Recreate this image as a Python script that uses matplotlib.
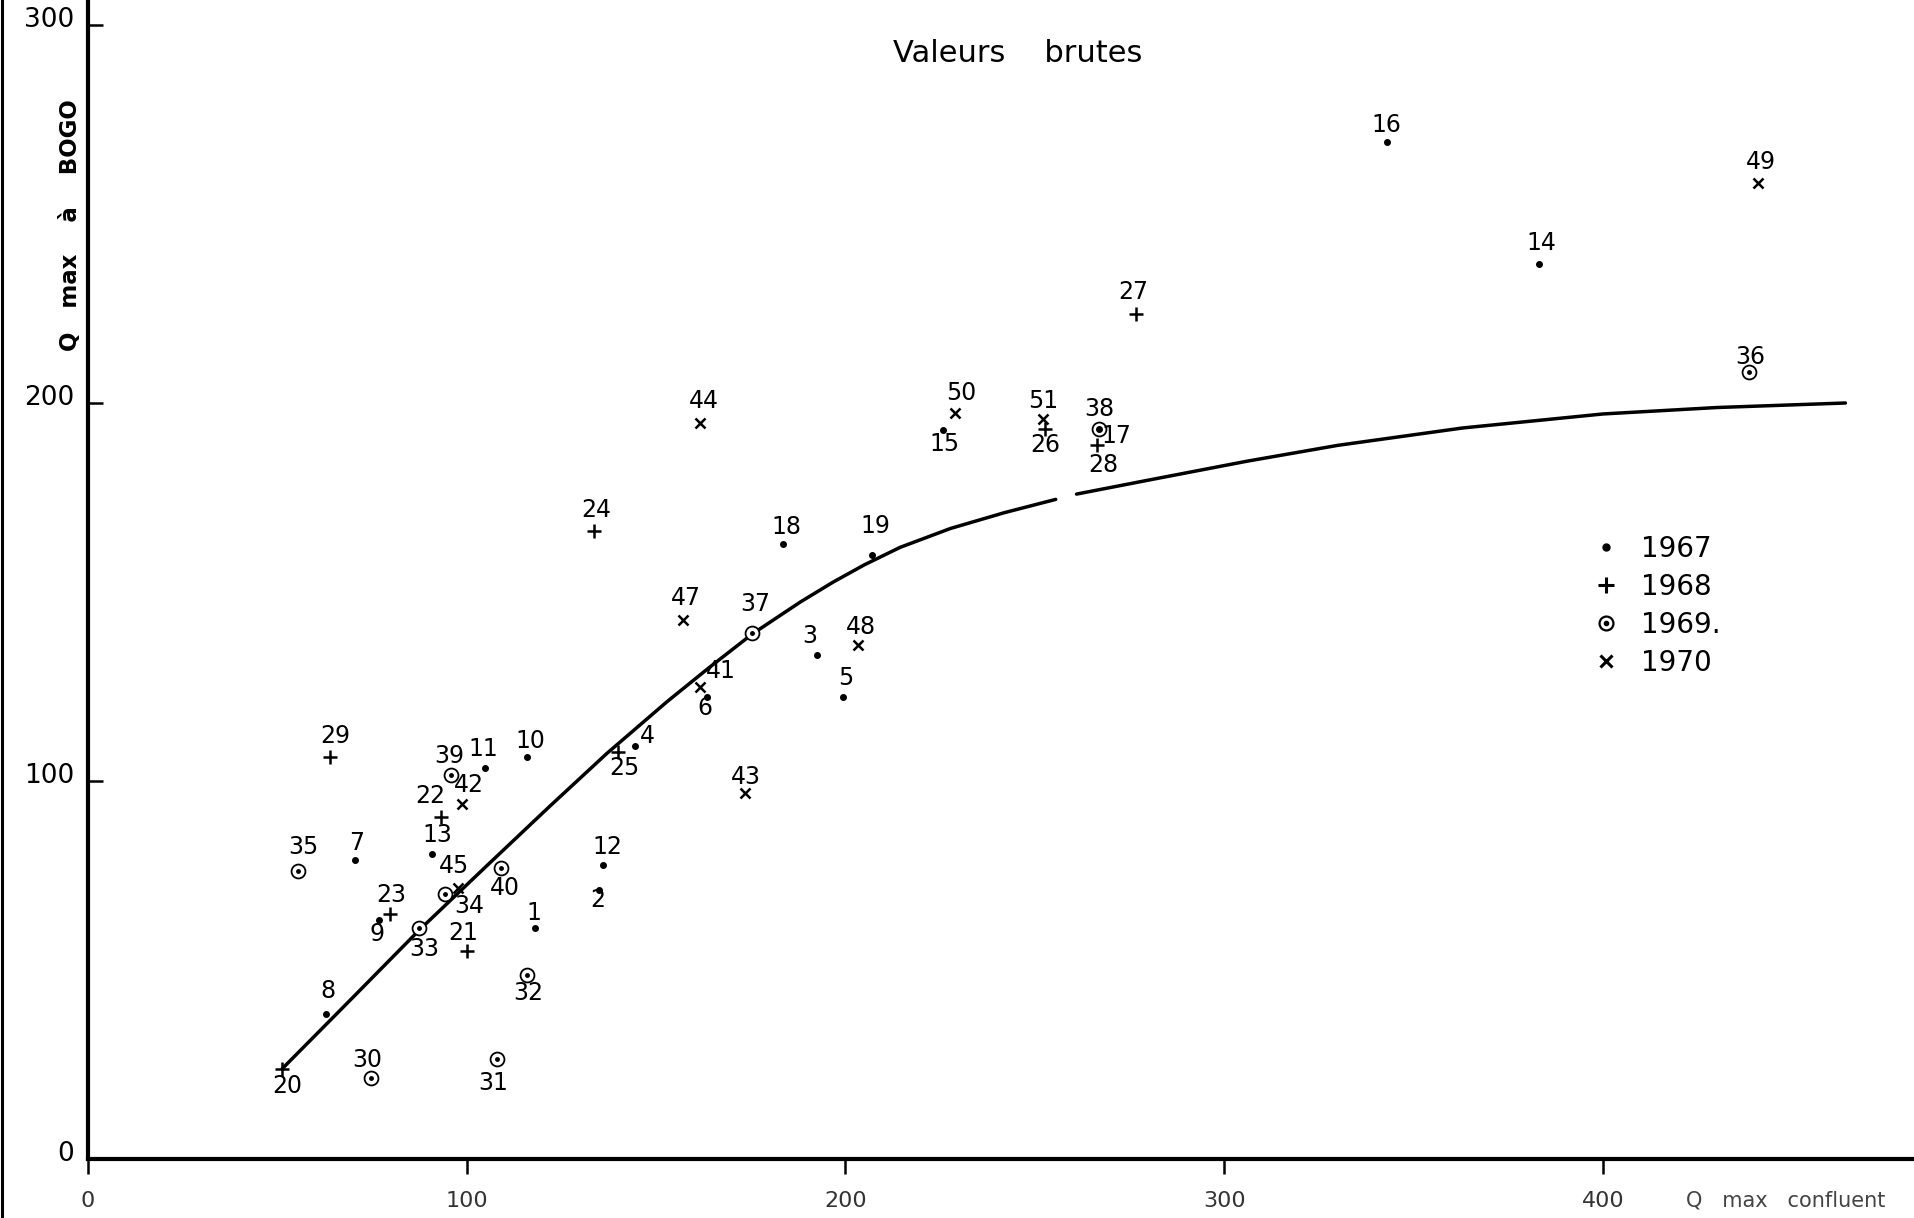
import matplotlib
matplotlib.use("Agg")
import matplotlib.pyplot as plt
import matplotlib.transforms as mtransforms
from matplotlib.lines import Line2D
import numpy as np

plt.rcParams['font.family'] = ['DejaVu Sans']

# ---------------- data ----------------
point_ids = [1, 2, 3, 4, 5, 6, 7, 8, 9, 10, 11, 12, 13, 14, 15, 16, 17, 18, 19,
             20, 21, 22, 23, 24, 25, 26, 27, 28, 29,
             30, 31, 32, 33, 34, 35, 36, 37, 38, 39, 40,
             41, 42, 43, 44, 45, 47, 48, 49, 50, 51]
q_confluent = [118.0, 134.8, 192.5, 144.5, 199.3, 163.5, 70.6, 62.9, 76.7, 115.8,
               104.8, 136.1, 90.9, 383.1, 225.7, 343.1, 267.0, 183.5, 207.0,
               51.3, 100.0, 93.2, 79.7, 133.5, 140.0, 252.8, 276.7, 266.4, 63.9,
               74.8, 108.0, 115.8, 87.4, 94.2, 55.5, 438.6, 175.4, 267.0, 95.8, 109.0,
               161.6, 98.7, 173.5, 161.6, 97.7, 157.0, 203.2, 440.8, 229.0, 252.2]
q_bogo = [61.1, 71.1, 133.4, 109.2, 122.1, 122.1, 79.2, 38.4, 63.3, 106.3,
          103.4, 77.9, 80.8, 236.8, 192.9, 269.1, 193.2, 162.8, 159.9,
          23.9, 54.9, 90.5, 64.9, 166.1, 107.6, 193.2, 223.6, 189.0, 106.3,
          21.3, 26.5, 48.8, 61.1, 70.1, 76.3, 208.1, 139.2, 193.2, 101.5, 76.9,
          125.0, 94.0, 96.9, 194.8, 71.7, 142.5, 136.0, 258.2, 197.4, 195.8]
years = [1967] * 19 + [1968] * 10 + [1969] * 11 + [1970] * 10

# fitted curve (gap kept as in the original)
curve_x = [51.3, 69, 87.4, 105, 121.9, 137, 152.9, 164, 175.4, 188, 196.7, 205,
           214.4, 227.7, 242, 255.5, np.nan,
           261, 280, 306, 330, 363, 400, 430, 464]
curve_y = [23.9, 41.8, 60.5, 77.3, 93.3, 107.3, 121.0, 130.0, 138.9, 147.3, 152.6,
           157.2, 161.8, 166.8, 171.0, 174.5, np.nan,
           175.9, 179.6, 184.6, 188.8, 193.4, 197.1, 198.8, 200.0]

x_ticks = [0, 100, 200, 300, 400]
y_ticks = [0, 100, 200, 300]
legend_years = ['1967', '1968', '1969.', '1970']

# label placement offsets (screen px of the reduced picture, up = positive)
label_offsets = {
    1: (-1, 12), 2: (-1, -8), 3: (-6, 15), 4: (10, 8), 5: (2, 16), 6: (-2, -9),
    7: (1, 14), 8: (1, 19), 9: (-1, -12), 10: (3, 13), 11: (-1, 16), 12: (3, 14),
    13: (4, 15), 14: (2, 17), 15: (1, -12), 16: (-1, 14), 17: (14, -6), 18: (3, 14),
    19: (3, 23), 20: (4, -14), 21: (-3, 15), 22: (-9, 17), 23: (1, 15), 24: (2, 17),
    25: (5, -13), 26: (0, -13), 27: (-2, 18), 28: (5, -17), 29: (4, 17), 30: (-3, 15),
    31: (-3, -20), 32: (1, -15), 33: (4, -17), 34: (20, -10), 35: (4, 19), 36: (1, 13),
    37: (2, 24), 38: (0, 16), 39: (-1, 16), 40: (3, -16), 41: (17, 13), 42: (6, 15),
    43: (1, 13), 44: (3, 18), 45: (-3, 18), 47: (3, 18), 48: (3, 15), 49: (3, 17),
    50: (5, 16), 51: (0, 15),
}
PX2PT = 1.2213 * 0.72

# ---------------- figure ----------------
W, H = 1915, 1218
fig = plt.figure(figsize=(W / 100, H / 100), dpi=100)
x0_px, y0_px = 88, 1159
ppu_x, ppu_y = 3.7875, 3.78
xmax = (W - x0_px) / ppu_x
ymax = y0_px / ppu_y
ax = fig.add_axes([x0_px / W, (H - y0_px) / H, 1 - x0_px / W, y0_px / H])
ax.set_xlim(0, xmax)
ax.set_ylim(0, ymax)

for s in ['top', 'right']:
    ax.spines[s].set_visible(False)
for s in ['left', 'bottom']:
    ax.spines[s].set_linewidth(3.0)

ax.set_xticks(x_ticks)
ax.set_xticklabels([str(t) for t in x_ticks], fontsize=16, color='#333333')
ax.set_yticks(y_ticks)
ax.set_yticklabels([str(t) for t in y_ticks], fontsize=19)
ax.tick_params(axis='x', direction='out', length=11, width=1.8, pad=12)
ax.tick_params(axis='y', direction='in', length=11, width=1.8, pad=10)
off = mtransforms.ScaledTranslation(0, 8 / 100, fig.dpi_scale_trans)
for lab in ax.get_yticklabels():
    lab.set_transform(lab.get_transform() + off)

# curve
ax.plot(curve_x, curve_y, color='black', lw=2.5, zorder=2, solid_capstyle='round',
        solid_joinstyle='round')

xs = np.array(q_confluent)
ys = np.array(q_bogo)
yr = np.array(years)

m = yr == 1967
ax.plot(xs[m], ys[m], ls='none', marker='o', ms=4, color='black', zorder=4)
m = yr == 1968
ax.plot(xs[m], ys[m], ls='none', marker='+', ms=10, mew=1.8, color='black', zorder=4)
m = yr == 1969
ax.plot(xs[m], ys[m], ls='none', marker='o', ms=10, mew=1.3, mfc='white',
        mec='black', zorder=3)
ax.plot(xs[m], ys[m], ls='none', marker='o', ms=2.5, color='black', zorder=4)
m = yr == 1970
ax.plot(xs[m], ys[m], ls='none', marker='x', ms=7, mew=1.8, color='black', zorder=4)

for pid, x, y in zip(point_ids, q_confluent, q_bogo):
    dx, dy = label_offsets[pid]
    ax.annotate(str(pid), (x, y), xytext=(dx * PX2PT, dy * PX2PT),
                textcoords='offset points', ha='center', va='center',
                fontsize=17, color='black', zorder=5)

# title
ax.text(245.4, 292.4, 'Valeurs    brutes', ha='center', va='center', fontsize=22)

# axis titles
ax.text(-4.5, 247.0, 'Q   max    à    BOGO', rotation=90, ha='center', va='center',
        fontsize=16.5, fontweight='bold', clip_on=False)
ax.text(422.0, -11.0, 'Q   max   confluent', ha='left', va='center', fontsize=15,
        color='#444444', clip_on=False)

# legend
h67 = Line2D([], [], ls='none', marker='o', ms=5, color='black')
h68 = Line2D([], [], ls='none', marker='+', ms=12, mew=2.2, color='black')
h69a = Line2D([], [], ls='none', marker='o', ms=10, mew=1.6, mfc='white', mec='black')
h69b = Line2D([], [], ls='none', marker='o', ms=3, color='black')
h70 = Line2D([], [], ls='none', marker='x', ms=9, mew=2.2, color='black')
leg = ax.legend([h67, h68, (h69a, h69b), h70], legend_years,
                loc='upper left', bbox_to_anchor=(0.832, 0.561),
                bbox_transform=fig.transFigure, frameon=False, fontsize=20,
                handlelength=0.9, handletextpad=0.8, labelspacing=0.36,
                borderpad=0, borderaxespad=0)

# scanned page border on the left
fig.add_artist(Line2D([0.0012, 0.0012], [0, 1], transform=fig.transFigure,
                      color='black', lw=2.2))

fig.savefig('out.png', dpi=100, facecolor='white')
